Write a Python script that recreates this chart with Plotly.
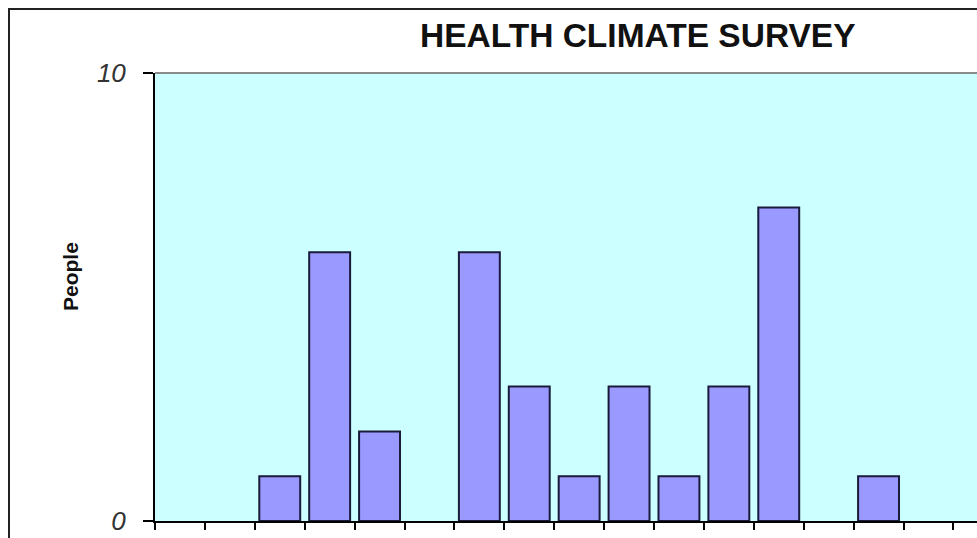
import plotly.graph_objects as go

# Survey items along the category axis and the number of people per item
items = ["Q1", "Q2", "Q3", "Q4", "Q5", "Q6", "Q7", "Q8", "Q9",
         "Q10", "Q11", "Q12", "Q13", "Q14", "Q15", "Q16", "Q17"]
people = [0, 0, 1, 6, 2, 0, 6, 3, 1, 3, 1, 3, 7, 0, 1, 0, 0]

title_text = "HEALTH CLIMATE SURVEY"
y_title = "People"
y_ticks = [0, 10]

W, H = 977, 538
L, R, T, B = 155, 0, 73, 17
pw, ph = W - L - R, H - T - B

# empty items get no outline so nothing sits on the baseline
outline_widths = [2 if v > 0 else 0 for v in people]

fig = go.Figure(
    go.Bar(
        x=items,
        y=people,
        width=0.82,
        marker=dict(color="#9999FF", line=dict(color="#1a1a3a", width=outline_widths)),
    )
)

fig.update_layout(
    width=W,
    height=H,
    margin=dict(l=L, r=R, t=T, b=B, pad=0),
    paper_bgcolor="white",
    plot_bgcolor="#CCFFFF",
    showlegend=False,
    font=dict(family="Liberation Sans, Arial, sans-serif", color="#222"),
)

fig.update_xaxes(
    type="category",
    range=[-0.5, -0.5 + pw / 49.9],
    showticklabels=False,
    tickson="boundaries",
    ticks="outside",
    ticklen=7,
    tickwidth=2,
    tickcolor="black",
    showline=True,
    linecolor="black",
    linewidth=2,
    showgrid=False,
    zeroline=False,
    fixedrange=True,
)

fig.update_yaxes(
    range=[0, 10],
    tickvals=y_ticks,
    ticktext=[f"<i>{v}</i>" for v in y_ticks],
    ticks="outside",
    ticklen=10,
    tickwidth=2,
    tickcolor="black",
    ticklabelstandoff=12,
    tickfont=dict(size=26, color="#333"),
    showline=True,
    linecolor="black",
    linewidth=2,
    showgrid=False,
    zeroline=False,
    fixedrange=True,
)

# plot-area top edge and the surrounding chart frame
fig.add_shape(type="line", xref="paper", yref="paper", x0=0, x1=1, y0=1, y1=1,
              line=dict(color="#8a8a8a", width=2))
fig.add_shape(type="rect", xref="paper", yref="paper",
              x0=(9 - L) / pw, x1=1.2, y0=-0.3, y1=(H - B - 9) / ph,
              line=dict(color="#222", width=2), fillcolor="rgba(0,0,0,0)")

fig.add_annotation(
    text=f"<b>{title_text}</b>", xref="paper", yref="paper",
    x=(638 - L) / pw, y=(H - B - 36) / ph, xanchor="center", yanchor="middle",
    showarrow=False, font=dict(size=33.5, color="#111"),
)
fig.add_annotation(
    text=f"<b>{y_title}</b>", xref="paper", yref="paper", textangle=-90,
    x=(70 - L) / pw, y=(H - B - 277) / ph, xanchor="center", yanchor="middle",
    showarrow=False, font=dict(size=21, color="#111"),
)

fig.write_html("out.html", config={"displayModeBar": False})
